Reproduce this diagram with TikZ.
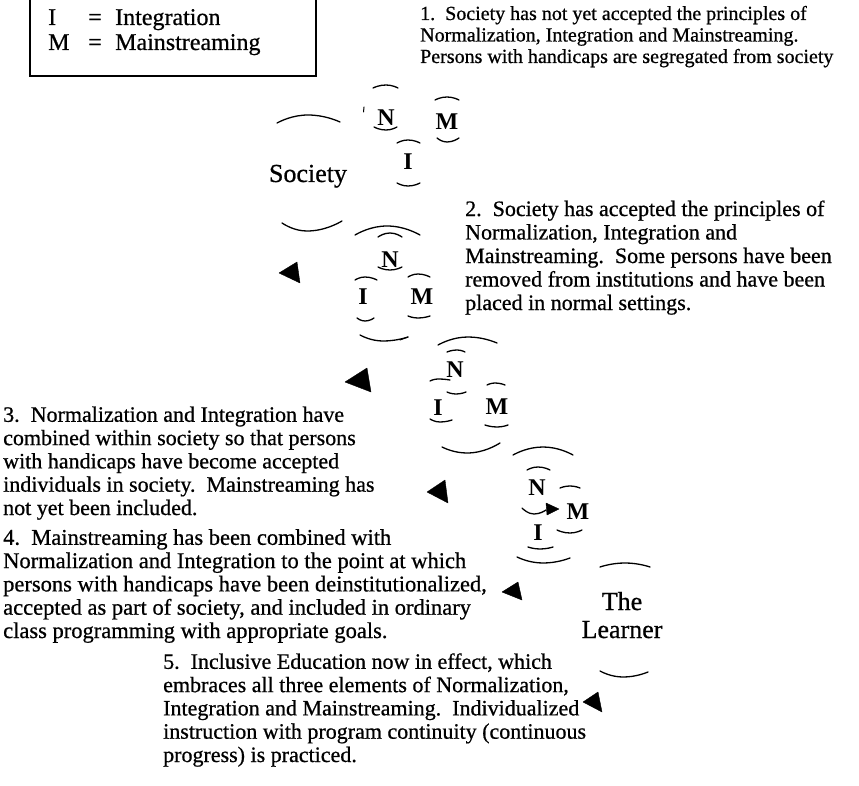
\documentclass[tikz,border=0pt]{standalone}
\usepackage{fontspec}
\setmainfont{Liberation Serif}
\newfontfamily\scanfont{Liberation Serif}[FakeBold=0.7]
\begin{document}
\begin{tikzpicture}[x=1pt,y=-1pt,
  arcl/.style={line width=1.3pt, line cap=round},
  tick/.style={line width=1pt, line cap=round},
  tri/.style={fill=black, draw=black, line width=0.4pt, line join=round},
  body/.style={anchor=base west, align=left, inner sep=0pt, font=\scanfont\fontsize{22}{23.3}\selectfont},
  letter/.style={inner sep=0pt, font=\fontsize{24}{24}\selectfont\bfseries},
  big/.style={inner sep=0pt, anchor=base, align=center, font=\scanfont\fontsize{26}{28}\selectfont},
  legend/.style={anchor=base west, inner sep=0pt, font=\scanfont\fontsize{24}{25}\selectfont}]
\useasboundingbox (0,0) rectangle (859,786);
% legend
\draw[line width=1.8pt] (30,-5) rectangle (316,76);
\node[legend] (legI) at (48,25) {\makebox[40pt][l]{I}\makebox[27pt][l]{=}Integration};
\node[legend] (legM) at (48,50) {\makebox[40pt][l]{M}\makebox[27pt][l]{=}Mainstreaming};
% texts (anchor = baseline of the last line)
\node[body, font=\scanfont\fontsize{20}{21.5}\selectfont] (t1) at (420,63) {1.\ \ Society has not yet accepted the principles of\\Normalization, Integration and Mainstreaming.\\Persons with handicaps are segregated from society};
\node[body, font=\scanfont\fontsize{22}{23.5}\selectfont] (t2) at (465,310) {2.\ \ Society has accepted the principles of\\Normalization, Integration and\\Mainstreaming.\ \ Some persons have been\\removed from institutions and have been\\placed in normal settings.};
\node[body] (t3) at (3,515) {3.\ \ Normalization and Integration have\\combined within society so that persons\\with handicaps have become accepted\\individuals in society.\ \ Mainstreaming has\\not yet been included.};
\node[body, font=\scanfont\fontsize{22.5}{23.3}\selectfont] (t4) at (3,638) {4.\ \ Mainstreaming has been combined with\\Normalization and Integration to the point at which\\persons with handicaps have been deinstitutionalized,\\accepted as part of society, and included in ordinary\\class programming with appropriate goals.};
\node[body] (t5) at (163,762) {5.\ \ Inclusive Education now in effect, which\\embraces all three elements of Normalization,\\Integration and Mainstreaming.\ \ Individualized\\instruction with program continuity (continuous\\progress) is practiced.};
% big labels
\node[big] (soc) at (308,182) {Society};
\node[big] (lrn) at (622,638) {The\\Learner};
% cluster 1
\node[letter] (n1) at (386,118) {N};
\node[letter] (m1) at (447,122) {M};
\node[letter] (i1) at (408,162) {I};
\draw[arcl] (277,123) parabola bend (308,115) (340,122);
\draw[arcl] (373,88) parabola bend (386,85) (398,88);
\draw[arcl] (374,127) parabola bend (386,130) (397,127);
\draw[arcl] (435,100) parabola bend (447,97) (459,100);
\draw[arcl] (437,138) parabola bend (447,142) (459,138);
\draw[arcl] (397,143) parabola bend (408,140) (420,143);
\draw[arcl] (397,183) parabola bend (408,186) (420,183);
\draw[arcl] (282,223) parabola bend (307,231) (342,221);
\draw[tick] (364,107) -- (363.5,112);
% cluster 2
\node[letter] (n2) at (390,260) {N};
\node[letter] (i2) at (363,297) {I};
\node[letter] (m2) at (422,297) {M};
\draw[arcl] (355,235) parabola bend (387,226) (420,235);
\draw[arcl] (378,237) parabola bend (390,233) (402,237);
\draw[arcl] (378,267) parabola bend (390,270) (402,267);
\draw[arcl] (355,280) parabola bend (365,277) (377,280);
\draw[arcl] (357,318) parabola bend (365,321) (374,318);
\draw[arcl] (408,277) parabola bend (418,274) (430,277);
\draw[arcl] (408,316) parabola bend (418,318) (430,316);
\draw[arcl] (360,335) parabola bend (383,341) (408,337);
\draw[tick] (400,340) -- (408,337);
% cluster 3
\node[letter] (n3) at (455,370) {N};
\node[letter] (i3) at (438,408) {I};
\node[letter] (m3) at (497,407) {M};
\draw[arcl] (438,345) parabola bend (468,337) (497,343);
\draw[arcl] (447,352) parabola bend (457,350) (465,352);
\draw[arcl] (447,392) parabola bend (456,394) (466,392);
\draw[arcl] (430,381) parabola bend (438,379) (450,380);
\draw[arcl] (430,419) parabola bend (440,422) (452,420);
\draw[arcl] (487,385) parabola bend (495,383) (505,385);
\draw[arcl] (485,425) parabola bend (497,427) (508,425);
\draw[arcl] (442,447) parabola bend (467,453) (500,443);
% cluster 4
\node[letter] (n4) at (537,488) {N};
\node[letter] (m4) at (578,512) {M};
\node[letter] (i4) at (538,533) {I};
\draw[arcl] (513,455) parabola bend (543,447) (573,455);
\draw[arcl] (527,470) parabola bend (538,467) (550,470);
\draw[arcl] (560,488) parabola bend (570,486) (580,488);
\draw[arcl] (522,508) parabola bend (534,514) (546,510);
\fill[tri] (546,503) -- (559,509) -- (547,515) -- cycle;
\draw[arcl] (557,530) parabola bend (570,533) (582,530);
\draw[arcl] (528,547) parabola bend (540,549) (553,547);
\draw[arcl] (517,557) parabola bend (543,563) (570,558);
% learner
\draw[arcl] (600,567) parabola bend (625,563) (650,567);
\draw[arcl] (600,671) parabola bend (623,677) (648,672);
% arrows
\filldraw[tri] (279,273) -- (297,262) -- (300,283) -- cycle;
\filldraw[tri] (345,382) -- (367,368) -- (371,392) -- cycle;
\filldraw[tri] (427,492) -- (445,480) -- (448,503) -- cycle;
\filldraw[tri] (502,592) -- (518,582) -- (522,600) -- cycle;
\filldraw[tri] (583,702) -- (598,692) -- (602,712) -- cycle;
\end{tikzpicture}
\end{document}
